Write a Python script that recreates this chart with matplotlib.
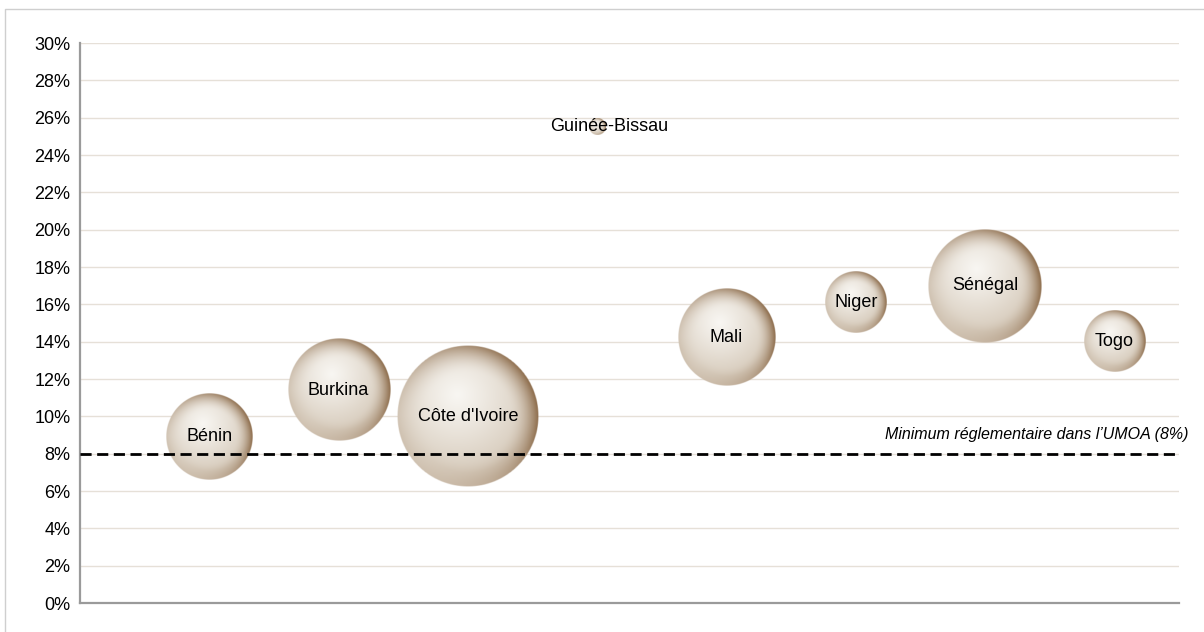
import numpy as np
import matplotlib
matplotlib.use("Agg")
import matplotlib.pyplot as plt
from matplotlib.lines import Line2D

plt.rcParams['font.family'] = ['Liberation Sans', 'DejaVu Sans']

# Data: solvency ratio per country, bubble size relative to the largest
pays = ["Bénin", "Burkina", "Côte d'Ivoire", "Guinée-Bissau",
        "Mali", "Niger", "Sénégal", "Togo"]
ratio = [8.9, 11.4, 10.0, 25.5, 14.2, 16.1, 17.0, 14.0]
taille = [36.7, 51.6, 100.0, 1.3, 46.7, 18.5, 64.4, 18.5]
seuil = 8.0
yticks = list(range(0, 31, 2))

W, H, DPI = 1204, 632, 100
fig = plt.figure(figsize=(W / DPI, H / DPI), dpi=DPI)
ax_l, ax_b, ax_w, ax_h = 80, 29, 1099, 560
ax = fig.add_axes([ax_l / W, ax_b / H, ax_w / W, ax_h / H])

xmin, xmax = 0, 8.5
ymin, ymax = 0, 30

# outer frame (only top and left edges fall inside the image)
fig.add_artist(Line2D([5 / W, 5 / W, 1.0], [0.0, 1 - 9 / H, 1 - 9 / H],
                      transform=fig.transFigure, color="#cfcfcf", lw=1))

# shaded sphere texture: soft highlight, brown rim heavier on the right
n = 240
g = np.linspace(-1, 1, n)
u, v = np.meshgrid(g, g)
d = np.sqrt(u ** 2 + v ** 2)
dd = np.maximum(d, 1e-6)
light = np.array([248, 246, 242]) / 255
mid = np.array([210, 197, 180]) / 255
dark = np.array([136, 102, 68]) / 255
dh = np.sqrt((u + 0.15) ** 2 + (v - 0.3) ** 2)
t = np.clip(dh / 1.25, 0, 1)[..., None] ** 1.1
base = light + (mid - light) * t
rim = np.clip((d - 0.6) / 0.4, 0, 1) ** 2.0
w = np.clip(0.55 + 0.4 * u / dd + 0.15 * v / dd, 0.15, 1.0)
k = (rim * w)[..., None]
col = base + (dark - base) * k
# faint reflected light along the lower rim
refl = (np.clip((d - 0.8) / 0.2, 0, 1) * np.clip(-v / dd - 0.3, 0, 1))[..., None]
col = col + (np.array([236, 229, 220]) / 255 - col) * 0.45 * refl
rgba = np.ones((n, n, 4))
rgba[..., :3] = np.clip(col, 0, 1)
rgba[..., 3] = np.clip((1 - d) * n / 2, 0, 1)

rmax_px = 71
for i, (p, y, s) in enumerate(zip(pays, ratio, taille)):
    x = i + 1
    r = rmax_px * np.sqrt(s / 100)
    rx = r / ax_w * (xmax - xmin)
    ry = r / ax_h * (ymax - ymin)
    ax.imshow(rgba, extent=(x - rx, x + rx, y - ry, y + ry), origin="lower",
              aspect="auto", interpolation="bilinear", zorder=2)
    dx = 0.09 if s < 5 else 0
    ax.text(x + dx, y, p, ha="center", va="center", fontsize=13,
            color="black", zorder=5)

ax.axhline(seuil, color="black", lw=2, dashes=(4, 2), zorder=4)
ax.text(8.57, 9.0, "Minimum réglementaire dans l’UMOA (8%)", style="italic",
        ha="right", va="center", fontsize=11.5, color="black",
        clip_on=False, zorder=5)

ax.set_xlim(xmin, xmax)
ax.set_ylim(ymin, ymax)
ax.set_xticks([])
ax.set_yticks(yticks)
ax.set_yticklabels([f"{t}%" for t in yticks], fontsize=13, color="black")
ax.tick_params(axis="y", length=0, pad=7)
ax.grid(axis="y", color="#e6e0d8", lw=1)
ax.set_axisbelow(True)
for side in ("top", "right"):
    ax.spines[side].set_visible(False)
for side in ("left", "bottom"):
    ax.spines[side].set_color("#9a9a9a")
    ax.spines[side].set_linewidth(1.6)

fig.savefig("out.png", dpi=DPI)
